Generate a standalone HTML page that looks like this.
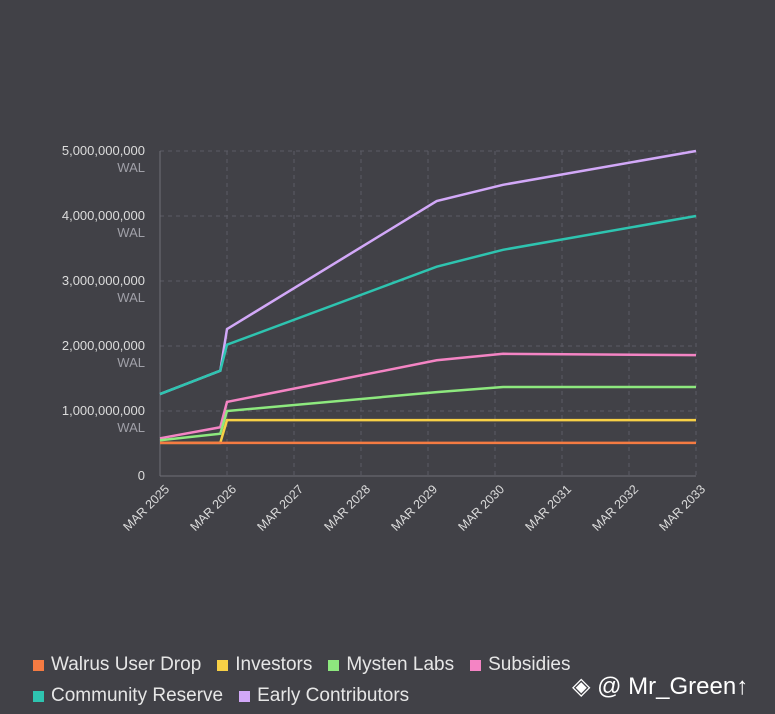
<!DOCTYPE html>
<html><head><meta charset="utf-8"><style>
body{margin:0;background:#414147;width:775px;height:714px;overflow:hidden;font-family:"Liberation Sans","Noto Sans CJK SC",sans-serif;}
.leg{position:absolute;left:33px;font-size:19px;color:#e6e6e6;display:flex;gap:16px;}
.leg span{display:flex;align-items:center;}
.leg i{display:inline-block;width:11px;height:11px;margin-right:7px;}
</style></head><body>
<svg id="chart" width="775" height="714" style="position:absolute;left:0;top:0"></svg>
<div class="leg" style="top:654px">
<span><i style="background:#f57b42"></i>Walrus User Drop</span>
<span><i style="background:#f7d046"></i>Investors</span>
<span><i style="background:#8de87e"></i>Mysten Labs</span>
<span><i style="background:#f484c4"></i>Subsidies</span>
</div>
<div class="leg" style="top:685px">
<span><i style="background:#2ec4b0"></i>Community Reserve</span>
<span><i style="background:#d2a8f8"></i>Early Contributors</span>
</div>
<div style="position:absolute;left:572px;top:672px;font-size:24px;color:#fff;">◈ @ Mr_Green↑</div>
<script>
const xTicks=["MAR 2025","MAR 2026","MAR 2027","MAR 2028","MAR 2029","MAR 2030","MAR 2031","MAR 2032","MAR 2033"];
const yTicks=[0,1,2,3,4,5];
const yLabels=["0","1,000,000,000","2,000,000,000","3,000,000,000","4,000,000,000","5,000,000,000"];
const times=[0,0.9,1.0,4.13,5.12,8.0];
const walrus=[0.51,0.51,0.51,0.51,0.51,0.51];
const investors=[0.51,0.51,0.86,0.86,0.86,0.86];
const mysten=[0.55,0.65,1.0,1.29,1.37,1.37];
const subsidies=[0.58,0.75,1.14,1.78,1.88,1.86];
const community=[1.26,1.62,2.02,3.22,3.48,4.0];
const early=[1.26,1.62,2.26,4.23,4.48,5.0];
const X=t=>160+t*67, Y=v=>476-v*65;
const svg=document.getElementById('chart');
const NS='http://www.w3.org/2000/svg';
function mk(tag,attrs,name){const e=document.createElementNS(NS,tag);for(const k in attrs)e.setAttribute(k,attrs[k]);


svg.appendChild(e);return e;}
yTicks.forEach((v,i)=>{
 if(v>0){mk('line',{x1:160,x2:696,y1:Y(v),y2:Y(v),stroke:'#5c5c64','stroke-dasharray':'4,4'},'y-gridline');}
 const t=mk('text',{x:145,y:Y(v)+4,'text-anchor':'end','font-size':13,fill:'#dcdcdc'},'y-tick-label');t.textContent=yLabels[i];
 if(v>0){const w=mk('text',{x:145,y:Y(v)+21,'text-anchor':'end','font-size':13,fill:'#a0a0a8'},'y-unit-label');w.textContent='WAL';}
});
xTicks.forEach((l,i)=>{
 if(i>0)mk('line',{x1:X(i),x2:X(i),y1:151,y2:476,stroke:'#5c5c64','stroke-dasharray':'4,4'},'x-gridline');
 const t=mk('text',{x:X(i)+10,y:490,'text-anchor':'end','font-size':12.5,fill:'#dcdcdc',transform:`rotate(-45 ${X(i)+10} 490)`},'x-tick-label');t.textContent=l;
});
mk('line',{x1:160,x2:160,y1:151,y2:476,stroke:'#6f6f77'},'y-axis');
mk('line',{x1:160,x2:696,y1:476,y2:476,stroke:'#6f6f77'},'x-axis');
[[early,'#d2a8f8','early-contributors'],[community,'#2ec4b0','community-reserve'],[subsidies,'#f484c4','subsidies'],[mysten,'#8de87e','mysten-labs'],[investors,'#f7d046','investors'],[walrus,'#f57b42','walrus-user-drop']].forEach(([d,c,n])=>{
 mk('polyline',{points:d.map((v,i)=>X(times[i])+','+Y(v)).join(' '),fill:'none',stroke:c,'stroke-width':2.5},n+'-line');
});
</script>
</body></html>
